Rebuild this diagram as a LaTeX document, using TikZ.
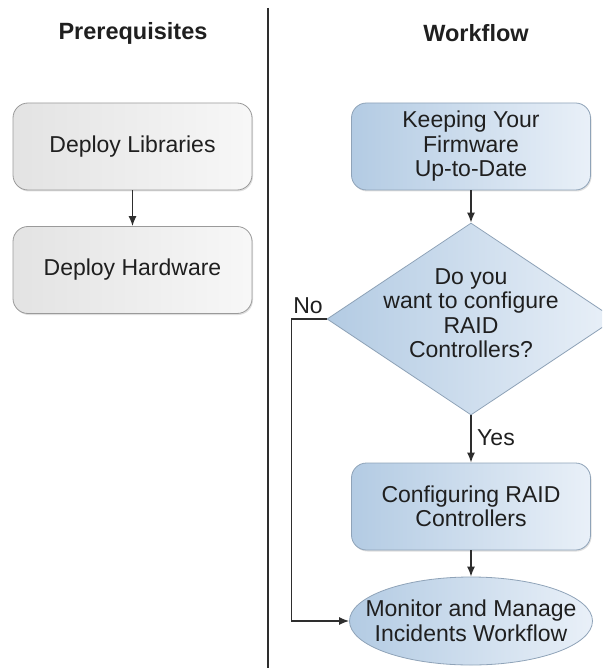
\documentclass[tikz,border=0pt]{standalone}
\usepackage{fontspec}
\setmainfont{Liberation Sans}
\usepackage{tikz}
\usepackage{xcolor}
\usetikzlibrary{shapes.geometric,shadows,arrows.meta}

\definecolor{edgegray}{HTML}{9A9A9A}
\definecolor{edgeblue}{HTML}{8FA3B8}
\definecolor{blueA}{HTML}{B3CBE3}
\definecolor{blueB}{HTML}{E9F0F8}
\definecolor{lineclr}{HTML}{2E2E2E}

\begin{document}
\begin{tikzpicture}[x=1pt,y=-1pt,
        every node/.style={font=\fontsize{23}{24.5}\selectfont,text=black!88},
        graybox/.style={draw=edgegray,rounded corners=15pt,left color=black!11,right color=black!3,
            minimum width=239pt,minimum height=87pt,line width=0.8pt,
            drop shadow={opacity=0.25,shadow xshift=1pt,shadow yshift=-1.5pt}},
        bluebox/.style={draw=edgeblue,rounded corners=15pt,left color=blueA,right color=blueB,
            minimum width=239pt,minimum height=87pt,align=center,line width=0.8pt,
            drop shadow={opacity=0.25,shadow xshift=1pt,shadow yshift=-1.5pt}},
        decision/.style={diamond,draw=edgeblue,left color=blueA,right color=blueB,
            minimum width=288pt,minimum height=192pt,inner sep=0pt,line width=0.8pt},
        terminal/.style={ellipse,draw=edgeblue,left color=blueA,right color=blueB,
            minimum width=243pt,minimum height=88pt,inner sep=0pt,line width=0.8pt},
        flow/.style={draw=lineclr,line width=1.4pt,-{Latex[length=10pt,width=8pt]}}]
        \useasboundingbox (0,0) rectangle (602,668);
        \clip (0,0) rectangle (602,668);
        % column titles and divider
        \node[font=\fontsize{23.5}{25}\selectfont\bfseries] (pre) at (133,33) {Prerequisites};
        \node[font=\fontsize{23.5}{25}\selectfont\bfseries] (wf) at (476,33) {Workflow};
        \draw[lineclr,line width=1.4pt] (268,8) -- (268,668);
        % prerequisites
        \node[graybox] (lib) at (132.5,146.5) {Deploy Libraries};
        \node[graybox] (hw) at (132.5,270) {Deploy Hardware};
        \draw[flow] (lib.south) -- (hw.north);
        % workflow
        \node[bluebox] (fw) at (471,146.5) {Keeping Your\\Firmware\\Up-to-Date};
        \node[decision] (raid) at (471,319) {};
        \node[align=center] (q) at (471,313) {Do you\\want to configure\\RAID\\Controllers?};
        \node[bluebox] (cfg) at (471,506.5) {Configuring RAID\\Controllers};
        \node[terminal] (mon) at (471,621) {};
        \node[align=center] (montxt) at (471,621) {Monitor and Manage\\Incidents Workflow};
        \draw[flow] (fw.south) -- (raid.north);
        \draw[flow] (raid.south) -- (cfg.north);
        \draw[flow] (cfg.south) -- (mon.north);
        \draw[flow] (raid.west) -- ++(-35,0) |- (mon.west);
        \node (no) at (308,306) {No};
        \node (yes) at (496,438) {Yes};
\end{tikzpicture}
\end{document}
